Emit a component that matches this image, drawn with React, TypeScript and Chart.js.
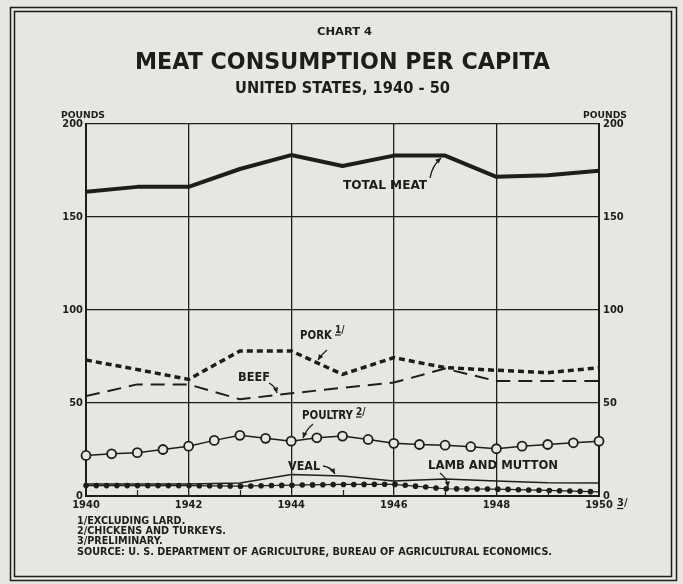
import React, { useEffect, useRef } from 'react';
import { Chart, registerables } from 'chart.js';

Chart.register(...registerables);

// ---- data (pounds per capita) ----
const years = [1940, 1941, 1942, 1943, 1944, 1945, 1946, 1947, 1948, 1949, 1950];
const totalMeat = [163.6, 166.2, 166.2, 175.8, 183.3, 177.4, 183.0, 183.0, 171.6, 172.5, 174.9];
const pork = [73.1, 68.0, 62.7, 78.0, 78.0, 65.4, 74.4, 69.0, 67.6, 66.3, 69.0];
const beef = [53.7, 60.0, 60.0, 52.0, 55.2, 58.2, 61.0, 68.5, 61.8, 61.8, 61.8];
const veal = [6.5, 6.5, 6.5, 7.0, 11.5, 10.7, 8.0, 9.2, 8.0, 7.1, 7.0];
const lambMutton = [5.6, 5.6, 5.6, 5.3, 5.8, 6.2, 6.3, 3.9, 3.7, 3.0, 2.2];
const poultryYears = [
  1940, 1940.5, 1941, 1941.5, 1942, 1942.5, 1943, 1943.5, 1944, 1944.5, 1945,
  1945.5, 1946, 1946.5, 1947, 1947.5, 1948, 1948.5, 1949, 1949.5, 1950,
];
const poultry = [
  21.8, 22.7, 23.3, 25.0, 26.8, 29.9, 32.6, 31.0, 29.5, 31.3, 32.2,
  30.4, 28.3, 27.7, 27.3, 26.5, 25.4, 26.8, 27.7, 28.6, 29.5,
];
const yTickValues = [0, 50, 100, 150, 200];
const xTickYears = [1940, 1942, 1944, 1946, 1948, 1950];
const minorTickYears = [1941, 1943, 1945, 1947, 1949];

const footnotes = [
  '1/EXCLUDING LARD.',
  '2/CHICKENS AND TURKEYS.',
  '3/PRELIMINARY.',
  'SOURCE: U. S. DEPARTMENT OF AGRICULTURE, BUREAU OF AGRICULTURAL ECONOMICS.',
];

const INK = '#1d1d1d';
const PAPER = '#e6e6e2';
const FONT = "'DejaVu Sans Condensed', 'DejaVu Sans', sans-serif";
const FONT_W = "'DejaVu Sans', sans-serif";

function fitText(ctx: CanvasRenderingContext2D, text: string, left: number, y: number, width: number, font: string) {
  ctx.font = font;
  const m = ctx.measureText(text).width;
  ctx.save();
  ctx.translate(left, y);
  ctx.scale(width / m, 1);
  ctx.textAlign = 'left';
  ctx.textBaseline = 'middle';
  ctx.fillText(text, 0, 0);
  ctx.restore();
}

function arrow(ctx: CanvasRenderingContext2D, x1: number, y1: number, cx: number, cy: number, x2: number, y2: number) {
  ctx.beginPath();
  ctx.moveTo(x1, y1);
  ctx.quadraticCurveTo(cx, cy, x2, y2);
  ctx.stroke();
  const a = Math.atan2(y2 - cy, x2 - cx);
  const L = 6;
  ctx.beginPath();
  ctx.moveTo(x2, y2);
  ctx.lineTo(x2 - L * Math.cos(a - 0.45), y2 - L * Math.sin(a - 0.45));
  ctx.lineTo(x2 - L * Math.cos(a + 0.45), y2 - L * Math.sin(a + 0.45));
  ctx.closePath();
  ctx.fill();
}

function footMark(ctx: CanvasRenderingContext2D, mark: string, x: number, y: number, size: number) {
  ctx.font = `bold ${size}px ${FONT}`;
  ctx.textAlign = 'left';
  ctx.textBaseline = 'middle';
  ctx.fillText(mark, x, y);
  const w = ctx.measureText(mark).width;
  ctx.beginPath();
  ctx.moveTo(x, y + size * 0.5);
  ctx.lineTo(x + w * 0.6, y + size * 0.5);
  ctx.lineWidth = 1.2;
  ctx.stroke();
}

const decor = {
  id: 'decor',
  beforeDraw(chart: any) {
    const ctx = chart.ctx as CanvasRenderingContext2D;
    ctx.save();
    ctx.fillStyle = PAPER;
    ctx.fillRect(0, 0, chart.width, chart.height);
    ctx.strokeStyle = INK;
    ctx.lineWidth = 1.5;
    ctx.strokeRect(10.5, 7.5, 666, 573);
    ctx.strokeRect(14.5, 11.5, 657, 565);
    ctx.restore();
  },
  afterDraw(chart: any) {
    const ctx = chart.ctx as CanvasRenderingContext2D;
    const xs = chart.scales.x;
    const ca = chart.chartArea;
    ctx.save();
    ctx.fillStyle = INK;
    ctx.strokeStyle = INK;

    // minor ticks at odd years
    ctx.lineWidth = 1.2;
    for (const yr of minorTickYears) {
      const px = Math.round(xs.getPixelForValue(yr)) + 0.5;
      ctx.beginPath();
      ctx.moveTo(px, ca.bottom);
      ctx.lineTo(px, ca.bottom - 6);
      ctx.stroke();
    }

    // titles
    fitText(ctx, 'CHART 4', 317, 32, 55, `bold 10px ${FONT_W}`);
    fitText(ctx, 'MEAT CONSUMPTION PER CAPITA', 135, 63, 415, `bold 23px ${FONT_W}`);
    fitText(ctx, 'UNITED STATES, 1940 - 50', 235, 89, 215, `bold 16px ${FONT_W}`);

    // axis unit labels
    fitText(ctx, 'POUNDS', 61, 116, 44, `bold 9px ${FONT}`);
    fitText(ctx, 'POUNDS', 583, 116, 44, `bold 9px ${FONT}`);

    // preliminary mark after 1950
    footMark(ctx, '3/', 617, 503, 11);

    // in-plot labels
    const lf = `bold 12px ${FONT}`;
    fitText(ctx, 'TOTAL MEAT', 343, 186, 84, lf);
    fitText(ctx, 'PORK', 300, 336, 32, lf);
    footMark(ctx, '1/', 335, 330, 10);
    fitText(ctx, 'BEEF', 238, 378, 32, lf);
    fitText(ctx, 'POULTRY', 302, 416, 51, lf);
    footMark(ctx, '2/', 356, 412, 10);
    fitText(ctx, 'VEAL', 288, 467, 32, lf);
    fitText(ctx, 'LAMB AND MUTTON', 428, 466, 130, lf);

    // arrows
    ctx.lineWidth = 1.3;
    arrow(ctx, 430, 178, 432, 166, 441, 158);
    arrow(ctx, 327, 350, 322, 354, 318, 360);
    arrow(ctx, 269, 383, 275, 386, 277, 393);
    arrow(ctx, 313, 424, 306, 430, 303, 438);
    arrow(ctx, 323, 466, 331, 467, 335, 474);
    arrow(ctx, 440, 473, 447, 478, 448, 487);

    // footnotes
    ctx.font = `bold 10px ${FONT}`;
    const srcW = ctx.measureText(footnotes[3]).width;
    const k = 475 / srcW;
    const rows = [521, 531, 541, 552];
    footnotes.forEach((t, i) => {
      ctx.font = `bold 10px ${FONT}`;
      const w = ctx.measureText(t).width * k;
      fitText(ctx, t, 77, rows[i], w, `bold 10px ${FONT}`);
    });
    ctx.restore();
  },
};

export default function App() {
  const ref = useRef<HTMLCanvasElement | null>(null);
  useEffect(() => {
    document.body.style.margin = '0';
    const canvas = ref.current!;
    const pts = (xv: number[], yv: number[]) => xv.map((x, i) => ({ x, y: yv[i] }));
    const tickFont = { family: FONT, size: 11, weight: 'bold' as const };
    const chart = new Chart(canvas, {
      type: 'line',
      data: {
        datasets: [
          { label: 'Total meat', data: pts(years, totalMeat), borderColor: INK, borderWidth: 4, pointRadius: 0, borderJoinStyle: 'round' },
          { label: 'Pork', data: pts(years, pork), borderColor: INK, borderWidth: 3.5, borderDash: [6, 4], pointRadius: 0 },
          { label: 'Beef', data: pts(years, beef), borderColor: INK, borderWidth: 2, borderDash: [14, 8], pointRadius: 0 },
          {
            label: 'Poultry', data: pts(poultryYears, poultry), borderColor: INK, borderWidth: 1.5,
            pointRadius: 4.5, pointBackgroundColor: PAPER, pointBorderColor: INK, pointBorderWidth: 1.8, clip: 8,
          },
          { label: 'Veal', data: pts(years, veal), borderColor: INK, borderWidth: 1.5, pointRadius: 0 },
          { label: 'Lamb and mutton', data: pts(years, lambMutton), borderColor: INK, borderWidth: 1.2, pointRadius: 0 },
          {
            label: 'Lamb and mutton dots', data: pts(years, lambMutton), borderColor: INK, borderWidth: 5.6,
            borderDash: [0, 10.3], borderCapStyle: 'round', pointRadius: 0, clip: 4,
          },
        ],
      },
      options: {
        responsive: false,
        animation: false,
        devicePixelRatio: 1,
        layout: { padding: { top: 124, left: 0, right: 0, bottom: 0 } },
        plugins: { legend: { display: false }, tooltip: { enabled: false }, title: { display: false } },
        scales: {
          x: {
            type: 'linear', min: 1940, max: 1950,
            afterBuildTicks: (s: any) => { s.ticks = xTickYears.map((v) => ({ value: v })); },
            afterFit: (s: any) => { s.height = 88; },
            ticks: { color: INK, font: tickFont, padding: 3, maxRotation: 0, autoSkip: false, callback: (v: any) => String(v) },
            grid: { color: INK, lineWidth: 1.3, drawTicks: false },
            border: { display: true, color: INK, width: 2 },
          },
          y: {
            type: 'linear', position: 'left', min: 0, max: 200,
            afterBuildTicks: (s: any) => { s.ticks = yTickValues.map((v) => ({ value: v })); },
            afterFit: (s: any) => { s.width = 86; },
            ticks: { color: INK, font: tickFont, padding: 3 },
            grid: { color: INK, lineWidth: 1.3, drawTicks: false },
            border: { display: true, color: INK, width: 2 },
          },
          y2: {
            type: 'linear', position: 'right', min: 0, max: 200,
            afterBuildTicks: (s: any) => { s.ticks = yTickValues.map((v) => ({ value: v })); },
            afterFit: (s: any) => { s.width = 84; },
            ticks: { color: INK, font: tickFont, padding: 4 },
            grid: { display: false, drawTicks: false },
            border: { display: true, color: INK, width: 2 },
          },
        },
      },
      plugins: [decor],
    });
    return () => chart.destroy();
  }, []);
  return (
    <div style={{ position: 'absolute', left: 0, top: 0, width: 683, height: 584 }}>
      <canvas ref={ref} width={683} height={584} style={{ width: 683, height: 584, display: 'block' }} />
    </div>
  );
}
